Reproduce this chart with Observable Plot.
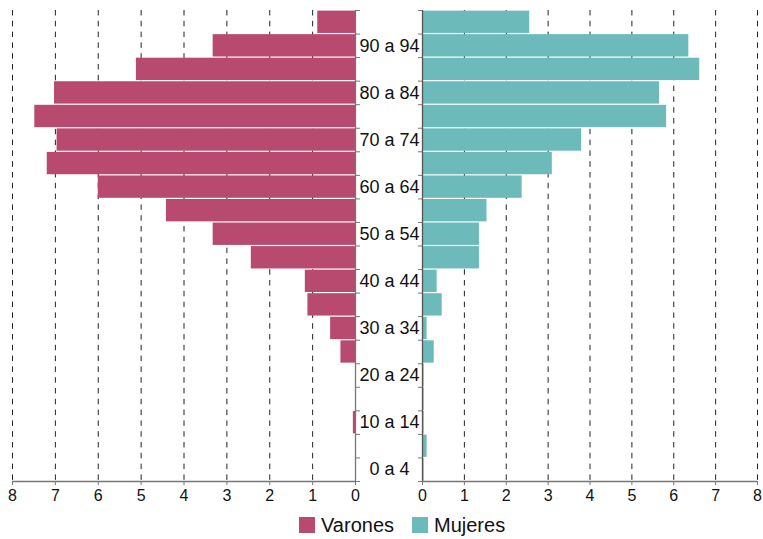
<!DOCTYPE html>
<html>
<head>
<meta charset="utf-8">
<script src="https://cdn.jsdelivr.net/npm/d3@7"></script>
<script src="https://cdn.jsdelivr.net/npm/@observablehq/plot@0.6"></script>
<style>
  body { margin: 0; background: #fff; font-family: "Liberation Sans", Arial, sans-serif; }
  #wrap { position: relative; width: 763px; height: 539px; }
  #wrap svg { position: absolute; left: 0; top: 0; background: transparent; }
  #legend { position: absolute; left: 299px; top: 515px; display: flex; align-items: center; font-size: 20px; color: #111; line-height: 20px; }
  .item { display: flex; align-items: center; margin-right: 18px; }
  .sw { width: 16px; height: 16px; margin-right: 6px; }
</style>
</head>
<body>
<div id="wrap"></div>
<script>
// Age groups, bottom to top
const ageGroups = ["0 a 4","5 a 9","10 a 14","15 a 19","20 a 24","25 a 29","30 a 34","35 a 39","40 a 44","45 a 49",
                   "50 a 54","55 a 59","60 a 64","65 a 69","70 a 74","75 a 79","80 a 84","85 a 89","90 a 94","95 y más"];
// Tick labels shown between panels
const yLabels = ["0 a 4","10 a 14","20 a 24","30 a 34","40 a 44","50 a 54","60 a 64","70 a 74","80 a 84","90 a 94"];
// Values (%)
const varones = [0,0,0.05,0,0,0.34,0.58,1.11,1.17,2.43,3.32,4.41,6.00,7.19,6.96,7.48,7.02,5.11,3.32,0.88];
const mujeres = [0.04,0.11,0.04,0.04,0.04,0.28,0.11,0.47,0.35,1.36,1.36,1.54,2.38,3.10,3.80,5.83,5.66,6.62,6.36,2.56];
const xTicks = [0,1,2,3,4,5,6,7,8];
const seriesNames = ["Varones","Mujeres"];
const colors = ["#b84a6f","#6dbabb"];

const vData = ageGroups.map((g, i) => ({g, i, v: varones[i]}));
const mData = ageGroups.map((g, i) => ({g, i, v: mujeres[i]}));
const labelData = ageGroups.map((g, i) => ({g, i})).filter(d => yLabels.includes(d.g));
const bounds = d3.range(0, ageGroups.length + 1);

const common = {
  width: 763, height: 505, marginTop: 10, marginBottom: 24,
  y: {domain: [0, ageGroups.length], axis: null},
  style: {fontFamily: '"Liberation Sans", Arial, sans-serif', fontSize: "16px", color: "#111", background: "transparent", overflow: "visible"}
};

const left = Plot.plot({
  ...common,
  marginLeft: 12, marginRight: 408,
  x: {domain: [0, 8], reverse: true, axis: null},
  marks: [
    Plot.ruleX(xTicks.filter(d => d > 0), {stroke: "#222", strokeWidth: 1, strokeDasharray: "5.5,5.3"}),
    Plot.rectX(vData, {x1: 0, x2: "v", y1: "i", y2: d => d.i + 1, fill: colors[0], insetTop: 0.6, insetBottom: 0.6}),
    Plot.ruleX([0], {stroke: "#777", strokeWidth: 1.3}),
    Plot.ruleY([0], {stroke: "#777", strokeWidth: 1.3}),
    Plot.axisX({ticks: xTicks, tickSize: 4, tickPadding: 4, stroke: "#777", fill: "#111", tickFormat: d => d, label: null}),
    Plot.axisY({anchor: "right", ticks: bounds, tickSize: 4, tickFormat: () => "", stroke: "#777", label: null}),
    Plot.text(labelData, {y: d => d.i + 0.5, frameAnchor: "right", dx: 34, text: "g", textAnchor: "middle", fontSize: 18, fill: "#111"})
  ]
});

const right = Plot.plot({
  ...common,
  marginLeft: 422, marginRight: 6,
  x: {domain: [0, 8], axis: null},
  marks: [
    Plot.ruleX(xTicks.filter(d => d > 0), {stroke: "#222", strokeWidth: 1, strokeDasharray: "5.5,5.3"}),
    Plot.rectX(mData, {x1: 0, x2: "v", y1: "i", y2: d => d.i + 1, fill: colors[1], insetTop: 0.6, insetBottom: 0.6}),
    Plot.ruleX([0], {stroke: "#555", strokeWidth: 1.3}),
    Plot.ruleY([0], {stroke: "#777", strokeWidth: 1.3}),
    Plot.axisX({ticks: xTicks, tickSize: 4, tickPadding: 4, stroke: "#777", fill: "#111", tickFormat: d => d, label: null}),
    Plot.axisY({anchor: "left", ticks: bounds, tickSize: 4, tickFormat: () => "", stroke: "#777", label: null})
  ]
});

const wrap = document.getElementById("wrap");
wrap.appendChild(left);
wrap.appendChild(right);

const legend = document.createElement("div");
legend.id = "legend";
seriesNames.forEach((name, k) => {
  const item = document.createElement("div");
  item.className = "item";
  const sw = document.createElement("span");
  sw.className = "sw";
  sw.style.background = colors[k];
  const t = document.createElement("span");
  t.textContent = name;
  item.appendChild(sw);
  item.appendChild(t);
  legend.appendChild(item);
});
wrap.appendChild(legend);
</script>
</body>
</html>
